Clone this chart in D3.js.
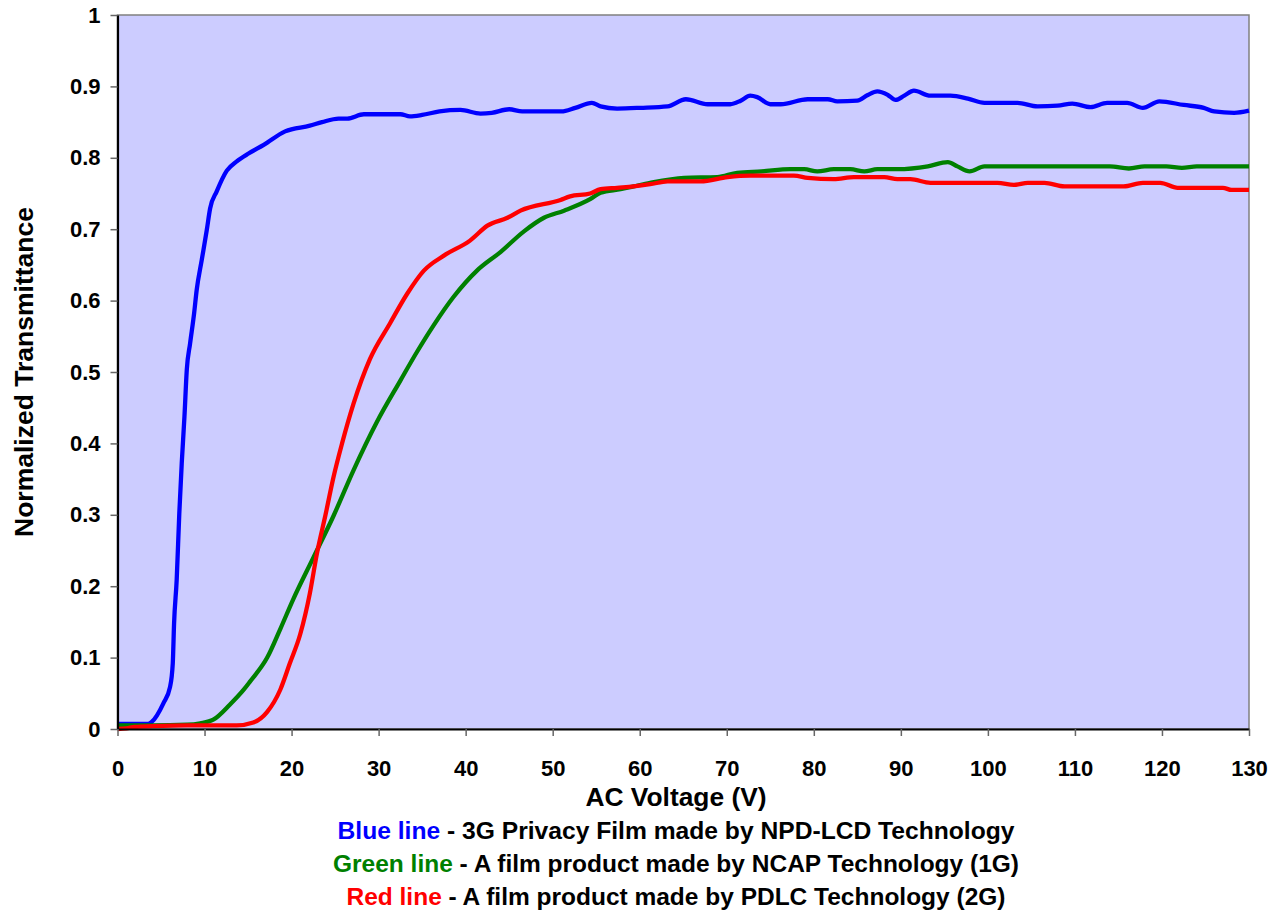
<!DOCTYPE html>
<html>
<head>
<meta charset="utf-8">
<script src="https://cdnjs.cloudflare.com/ajax/libs/d3/7.8.5/d3.min.js"></script>
<style>
  body { margin: 0; background: #fff; }
  text { font-family: "Liberation Sans", Arial, sans-serif; font-weight: bold; }
</style>
</head>
<body>
<svg id="chart" width="1282" height="911"></svg>
<script>
// Waarden: [spanning (V), genormaliseerde transmissie]
const blueData = [
  [0, 0.007], [2, 0.007], [3.5, 0.007], [3.93, 0.010], [5.27, 0.036], [6.04, 0.059],
  [6.35, 0.092], [6.5, 0.148], [6.8, 0.209], [7.1, 0.302], [7.38, 0.372], [7.69, 0.437],
  [7.96, 0.503], [8.34, 0.540], [8.8, 0.582], [9.1, 0.615], [9.68, 0.657], [10.26, 0.699],
  [10.64, 0.729], [11.4, 0.753], [12.56, 0.782], [13.7, 0.795], [15.05, 0.806], [16.8, 0.818],
  [19.26, 0.837], [22.1, 0.845], [23.5, 0.850], [25.4, 0.855], [26.4, 0.855], [28.3, 0.861],
  [32.5, 0.861], [33.6, 0.858], [35, 0.860], [37, 0.865], [39.4, 0.867], [41.7, 0.862],
  [43, 0.863], [45, 0.868], [46.5, 0.865], [51, 0.865], [52.6, 0.870], [54.5, 0.877],
  [55.5, 0.872], [57.4, 0.869], [60.1, 0.870], [63.2, 0.872], [65.3, 0.882], [67.8, 0.875],
  [70.4, 0.875], [71.6, 0.880], [72.7, 0.887], [73.5, 0.885], [75, 0.875], [76.2, 0.875],
  [79.3, 0.882], [81.6, 0.882], [82.7, 0.879], [85, 0.880], [86.2, 0.888], [87.3, 0.893],
  [88.5, 0.888], [89.4, 0.881], [90.4, 0.887], [91.5, 0.894], [93.4, 0.887], [95.7, 0.887],
  [97.7, 0.883], [99.6, 0.877], [103.4, 0.877], [105.7, 0.872], [108, 0.873], [109.7, 0.876],
  [111.8, 0.871], [113.7, 0.877], [116, 0.877], [117.8, 0.870], [119.7, 0.879], [122.5, 0.874],
  [124.8, 0.870], [126, 0.865], [128.3, 0.863], [130, 0.866]
];

const greenData = [
  [0, 0.005], [4, 0.005], [8, 0.006], [9.5, 0.008], [11, 0.013], [12.9, 0.034],
  [14.5, 0.055], [15.2, 0.066], [17.2, 0.100], [18.7, 0.140], [20.2, 0.182], [22.5, 0.240],
  [24.8, 0.298], [27.1, 0.362], [29.8, 0.430], [32.5, 0.488], [34.4, 0.528], [36.3, 0.565],
  [38.6, 0.605], [41.3, 0.642], [44, 0.668], [46.7, 0.697], [49, 0.716], [51.3, 0.726],
  [54.3, 0.742], [55.5, 0.751], [57.8, 0.756], [59.3, 0.760], [61.2, 0.765], [65.1, 0.772],
  [68.9, 0.773], [71.2, 0.779], [74, 0.781], [77.3, 0.784], [78.9, 0.784], [80.4, 0.781],
  [82.3, 0.784], [84.2, 0.784], [85.8, 0.781], [87.3, 0.784], [89.6, 0.784], [93.1, 0.788],
  [95.4, 0.794], [96.5, 0.788], [97.9, 0.781], [99.6, 0.788], [108.4, 0.788], [114, 0.788],
  [116.2, 0.785], [118, 0.788], [120.5, 0.788], [122.3, 0.786], [124, 0.788], [130, 0.788]
];

const redData = [
  [0, 0.0], [1, 0.001], [2, 0.003], [4, 0.004], [8, 0.005], [13.7, 0.005],
  [15.6, 0.009], [17.2, 0.024], [18.7, 0.055], [19.8, 0.092], [21, 0.133], [22.1, 0.190],
  [22.9, 0.245], [23.9, 0.300], [24.8, 0.352], [25.8, 0.400], [27.1, 0.455], [29, 0.518],
  [31.3, 0.568], [33.3, 0.610], [35.2, 0.642], [37.5, 0.663], [40.5, 0.684], [42.5, 0.705],
  [44.8, 0.716], [46.3, 0.726], [50.9, 0.741], [52, 0.746], [54.3, 0.750], [55.5, 0.756],
  [57.4, 0.758], [59.3, 0.760], [61.2, 0.763], [63.2, 0.767], [67, 0.767], [70.1, 0.773],
  [72.7, 0.775], [77.7, 0.775], [79.3, 0.772], [82.3, 0.770], [84.6, 0.773], [88.1, 0.773],
  [89.6, 0.770], [91.1, 0.770], [93.4, 0.765], [101.1, 0.765], [103, 0.762], [104.6, 0.765],
  [106.5, 0.765], [108.8, 0.760], [115.6, 0.760], [117.8, 0.765], [119.8, 0.765], [121.8, 0.758],
  [127, 0.758], [128, 0.755], [130, 0.755]
];

const xTicks = [0, 10, 20, 30, 40, 50, 60, 70, 80, 90, 100, 110, 120, 130];
const yTicks = [0, 0.1, 0.2, 0.3, 0.4, 0.5, 0.6, 0.7, 0.8, 0.9, 1];

const xTitle = "AC Voltage (V)";
const yTitle = "Normalized Transmittance";

const legendNames = ["Blue line", "Green line", "Red line"];
const legendDescs = [
  " - 3G Privacy Film made by NPD-LCD Technology",
  " - A film product made by NCAP Technology (1G)",
  " - A film product made by PDLC Technology (2G)"
];
const lineColors = ["#0000ff", "#008000", "#ff0000"];

// Afmetingen van het plotvlak
const plotLeft = 117.5, plotRight = 1249, plotTop = 15, plotBottom = 729;

const svg = d3.select("#chart");

const x = d3.scaleLinear().domain([0, 130]).range([plotLeft, plotRight]);
const y = d3.scaleLinear().domain([0, 1]).range([plotBottom, plotTop]);

// Achtergrond van het plotvlak
svg.append("rect")
    .attr("x", plotLeft)
    .attr("y", plotTop)
    .attr("width", plotRight - plotLeft)
    .attr("height", plotBottom - plotTop)
    .attr("fill", "#ccccff")
    .attr("stroke", "#808080")
    .attr("stroke-width", 1.5);

// De lijnen
const line = d3.line()
    .x(d => x(d[0]))
    .y(d => y(d[1]))
    .curve(d3.curveMonotoneX);

[blueData, greenData, redData].forEach((series, i) => {
  svg.append("path")
      .datum(series)
      .attr("fill", "none")
      .attr("stroke", lineColors[i])
      .attr("stroke-width", 4.3)
      .attr("stroke-linejoin", "round")
      .attr("d", line);
});

// Assen
const yAxis = svg.append("g")
    .attr("transform", "translate(" + plotLeft + ",0)")
    .call(d3.axisLeft(y).tickValues(yTicks).tickFormat(d3.format("~g"))
      .tickSize(7).tickSizeOuter(0).tickPadding(10));

const xAxis = svg.append("g")
    .attr("transform", "translate(0," + plotBottom + ")")
    .call(d3.axisBottom(x).tickValues(xTicks)
      .tickSize(7).tickSizeOuter(0).tickPadding(24));

[yAxis, xAxis].forEach(g => {
  g.select(".domain").attr("stroke", "#000").attr("stroke-width", 2.2);
  g.selectAll(".tick line").attr("stroke", "#666").attr("stroke-width", 1.5);
  g.selectAll(".tick text")
      .attr("fill", "#000")
      .style("font-size", "22px")
      .style("font-family", "'Liberation Sans', Arial, sans-serif")
      .style("font-weight", "bold");
});

// As titels
svg.append("text")
    .attr("transform", "translate(33,372) rotate(-90)")
    .attr("text-anchor", "middle")
    .attr("font-size", 25)
    .attr("textLength", 330)
    .attr("lengthAdjust", "spacingAndGlyphs")
    .text(yTitle);

svg.append("text")
    .attr("x", 676)
    .attr("y", 806)
    .attr("text-anchor", "middle")
    .attr("font-size", 26)
    .attr("textLength", 181)
    .attr("lengthAdjust", "spacingAndGlyphs")
    .text(xTitle);

// Legenda onder de grafiek
const legendBase = [839, 872, 905];
const legendWidth = [677, 686, 659];

legendNames.forEach((name, i) => {
  const t = svg.append("text")
      .attr("x", 676)
      .attr("y", legendBase[i])
      .attr("text-anchor", "middle")
      .attr("font-size", 24)
      .attr("textLength", legendWidth[i])
      .attr("lengthAdjust", "spacingAndGlyphs");
  t.append("tspan").attr("fill", lineColors[i]).text(name);
  t.append("tspan").attr("fill", "#000").text(legendDescs[i]);
});
</script>
</body>
</html>
